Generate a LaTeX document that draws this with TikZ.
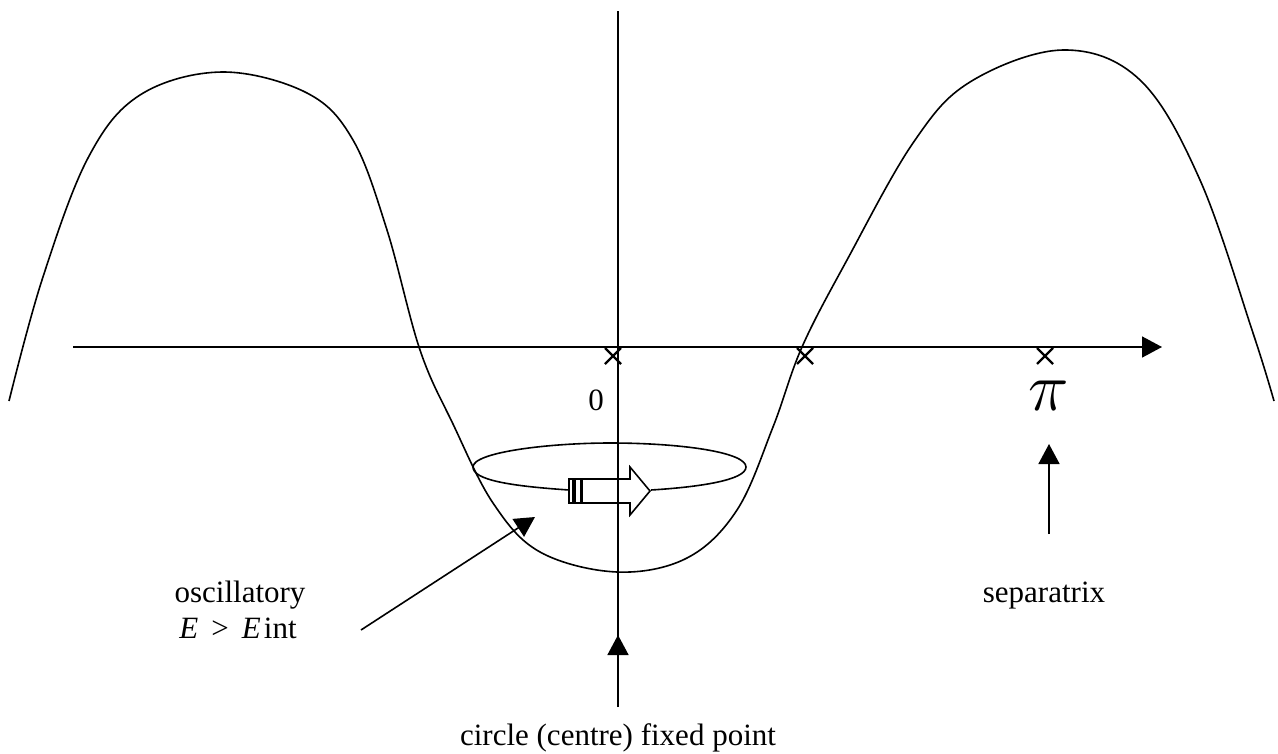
\documentclass[tikz,border=0pt]{standalone}
\usepackage{fontspec}
\usepackage{graphicx}
\setmainfont{Liberation Serif}
\usetikzlibrary{arrows.meta}
\tikzset{
 ln/.style={line width=1.6pt,black},
 arr/.style={ln,-{Triangle[length=20pt,width=21pt]}},
 lbl/.style={font=\fontsize{31}{36}\selectfont,inner sep=0pt,anchor=base},
 cross/.style={line width=2.2pt,black}
}
\begin{document}
\begin{tikzpicture}[x=1pt,y=-1pt]
\useasboundingbox (0,0) rectangle (1278,753);
\coordinate (xs) at (73,347);
\coordinate (xe) at (1162,347);
\coordinate (ys) at (618,11);
\coordinate (ye) at (618,663);
\draw[arr] (xs) -- (xe);
\draw[ln,smooth,tension=0.6] plot coordinates {(9,401) (42,280) (88,158) (140,95) (222,72) (307,93) (353,140) (387,230) (420,350) (453,424) (493,503) (540,552) (617,572) (687,558) (737,510) (773,427) (802,347) (847,260) (913,143) (970,82) (1063,50) (1140,80) (1200,180) (1253,333) (1274,401)};
% orbit
\coordinate (ol) at (473,467);
\draw[ln] (569,490) .. controls (510,486) and (473,480) .. (ol) .. controls (473,452) and (550,443) .. (610,443) .. controls (680,443) and (746,452) .. (746,467) .. controls (746,480) and (700,487) .. (651,490);
% block arrow
\draw[ln,fill=white,line join=miter] (582,479) -- (630,479) -- (630,467) -- (650,491) -- (630,515) -- (630,503) -- (582,503) -- cycle;
\draw[ln,fill=white] (569,479) rectangle (573,503);
\draw[ln,fill=white] (575,479) rectangle (581,503);
\draw[ln] (573,490) -- (575,490);
\draw[ln] (ys) -- (ye);
% crosses
\foreach \c/\n in {613/a,805/b,1045/c}{
 \coordinate (\n) at (\c,356);
 \draw[cross] ([shift={(-8,-8)}]\n) -- ([shift={(8,8)}]\n);
 \draw[cross] ([shift={(-8,8)}]\n) -- ([shift={(8,-8)}]\n);
}
\node[lbl] (zero) at (596,410) {0};
\node[lbl] (pi) at (1049,410) {\scalebox{2.75}{$\pi$}};
% labels
\node[lbl] (osc) at (240,602) {oscillatory};
\node[lbl] (e) at (238,638) {\textit{E}\hspace{.42em}>\hspace{.42em}\textit{E}\hspace{.1em}int};
\node[lbl] (sep) at (1044,602) {separatrix};
\node[lbl] (circ) at (618,745) {circle (centre) fixed point};
% pointers
\coordinate (p1s) at (361,630);
\coordinate (p1e) at (535,517);
\coordinate (p2s) at (1049,534);
\coordinate (p2e) at (1049,444);
\coordinate (p3s) at (618,707);
\coordinate (p3e) at (618,635);
\draw[arr] (p1s) -- (p1e);
\draw[arr] (p2s) -- (p2e);
\draw[arr] (p3s) -- (p3e);
\end{tikzpicture}
\end{document}
